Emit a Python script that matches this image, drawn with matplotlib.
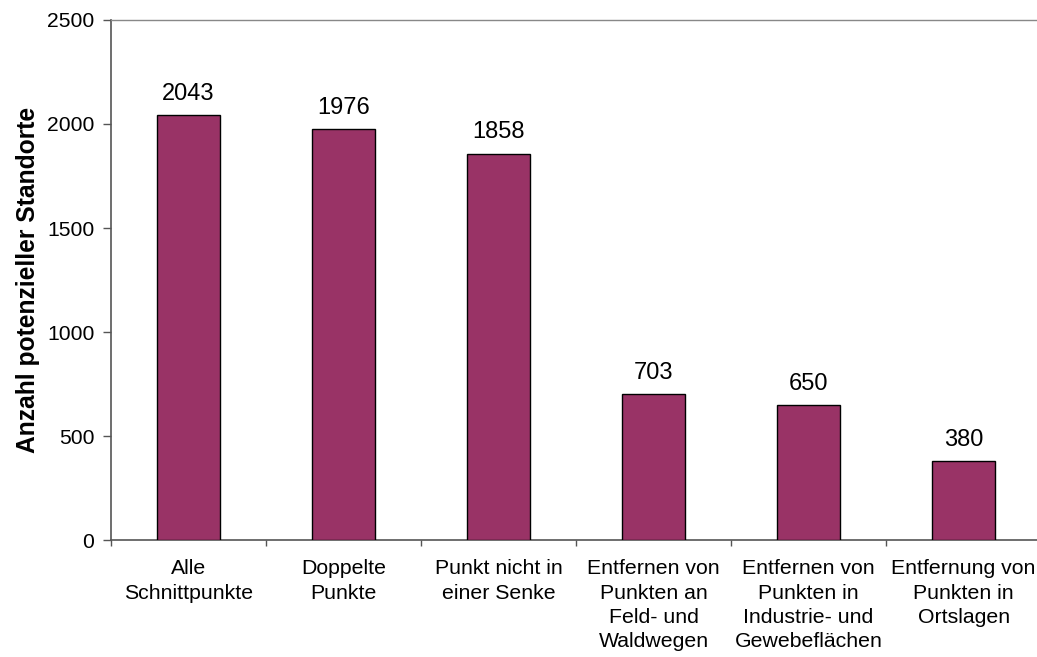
import matplotlib.pyplot as plt
import numpy as np

plt.rcParams['font.family'] = ['Liberation Sans', 'DejaVu Sans']

# Categories and counts
categories = [
    "Alle\nSchnittpunkte",
    "Doppelte\nPunkte",
    "Punkt nicht in\neiner Senke",
    "Entfernen von\nPunkten an\nFeld- und\nWaldwegen",
    "Entfernen von\nPunkten in\nIndustrie- und\nGewebeflächen",
    "Entfernung von\nPunkten in\nOrtslagen",
]
counts = [2043, 1976, 1858, 703, 650, 380]

fig = plt.figure(figsize=(10.37, 6.57), dpi=100)
ax = fig.add_axes([0.107, 0.178, 0.897, 0.7916])

x = np.arange(len(categories))
bars = ax.bar(x, counts, width=0.41, color='#993366', edgecolor='black', linewidth=1.0, zorder=3)

# value labels above bars
for xi, v in zip(x, counts):
    ax.annotate(str(v), xy=(xi, v), xytext=(0, 11), textcoords='offset points',
                ha='center', va='baseline', fontsize=17)

ax.set_xlim(-0.5, len(categories) - 0.5)
ax.set_ylim(0, 2500)
ax.set_yticks(np.arange(0, 2501, 500))
ax.tick_params(axis='y', labelsize=15.2, direction='out', length=6, width=1, color='#555555', pad=6)

# category labels centered, tick marks between categories
ax.set_xticks(np.arange(-0.5, len(categories), 1.0))
ax.set_xticklabels([])
ax.set_xticks(x, minor=True)
ax.set_xticklabels(categories, minor=True, fontsize=15.3, linespacing=1.35)
ax.tick_params(axis='x', which='major', direction='out', length=4.5, width=1, color='#555555')
ax.tick_params(axis='x', which='minor', length=0, pad=14)

ax.set_ylabel('Anzahl potenzieller Standorte', fontsize=17.7, fontweight='bold', labelpad=5)

for side in ['left', 'bottom']:
    ax.spines[side].set_color('#555555')
    ax.spines[side].set_linewidth(1.2)
ax.spines['top'].set_color('#888888')
ax.spines['top'].set_linewidth(1.0)
ax.spines['right'].set_visible(False)

fig.savefig('out.png', dpi=100)
